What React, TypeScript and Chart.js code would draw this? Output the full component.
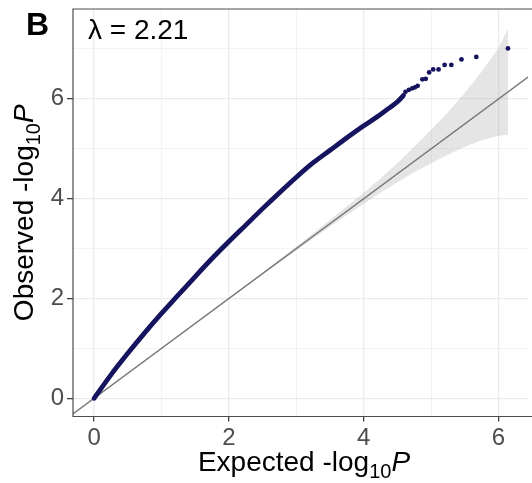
import { useEffect, useRef } from 'react';
import { Chart, registerables } from 'chart.js';

Chart.register(...registerables);

// ---- Data ----
const curveExpected = [0, 0.25, 0.5, 0.75, 1.0, 1.25, 1.5, 1.75, 2.0, 2.25, 2.5, 2.75, 3.0, 3.25, 3.5, 3.75, 4.0, 4.2, 4.35, 4.5, 4.59];
const curveObserved = [0, 0.47, 0.9, 1.31, 1.7, 2.07, 2.44, 2.8, 3.14, 3.47, 3.8, 4.12, 4.43, 4.72, 4.97, 5.22, 5.46, 5.64, 5.79, 5.94, 6.07];

const tailExpected = [4.62, 4.67, 4.72, 4.76, 4.8, 4.87, 4.92, 4.97, 5.03, 5.11, 5.2, 5.3, 5.45, 5.67, 6.14];
const tailObserved = [6.14, 6.18, 6.21, 6.23, 6.26, 6.39, 6.4, 6.53, 6.59, 6.59, 6.68, 6.68, 6.79, 6.84, 7.01];

const bandExpected = [1.0, 2.0, 2.5, 3.0, 3.5, 4.0, 4.25, 4.5, 4.75, 5.0, 5.25, 5.5, 5.75, 6.0, 6.14];
const bandUpper = [1.01, 2.01, 2.52, 3.04, 3.57, 4.12, 4.41, 4.71, 5.04, 5.38, 5.73, 6.12, 6.55, 7.02, 7.41];
const bandLower = [0.99, 1.99, 2.48, 2.96, 3.44, 3.9, 4.12, 4.33, 4.53, 4.71, 4.88, 5.04, 5.17, 5.26, 5.28];

const diagonalValues = [-1, 8];

const xTickValues = [0, 1, 2, 3, 4, 5, 6];
const yTickValues = [0, 1, 2, 3, 4, 5, 6, 7];
const X_MIN = -0.313;
const X_MAX = 6.437;
const Y_MIN = -0.365;
const Y_MAX = 7.8;

const PANEL_LABEL = 'B';
const LAMBDA_LABEL = 'λ = 2.21';
const X_TITLE_PREFIX = 'Expected -log';
const Y_TITLE_PREFIX = 'Observed -log';
const TITLE_SUB = '10';
const TITLE_VAR = 'P';

const FONT = '"Liberation Sans", Arial, Helvetica, sans-serif';
const NAVY = '#16145E';

const zip = (xs: number[], ys: number[]) => xs.map((x, i) => ({ x, y: ys[i] }));

function drawLogTitle(ctx: CanvasRenderingContext2D, prefix: string, cx: number, baseline: number, size: number) {
  const mainFont = `${size}px ${FONT}`;
  const subFont = `${Math.round(size * 0.7)}px ${FONT}`;
  const italFont = `italic ${size}px ${FONT}`;
  ctx.font = mainFont;
  const w1 = ctx.measureText(prefix).width;
  ctx.font = subFont;
  const w2 = ctx.measureText(TITLE_SUB).width;
  ctx.font = italFont;
  const w3 = ctx.measureText(TITLE_VAR).width;
  const start = cx - (w1 + w2 + w3) / 2;
  ctx.textAlign = 'left';
  ctx.textBaseline = 'alphabetic';
  ctx.fillStyle = '#000000';
  ctx.font = mainFont;
  ctx.fillText(prefix, start, baseline);
  ctx.font = subFont;
  ctx.fillText(TITLE_SUB, start + w1, baseline + 7);
  ctx.font = italFont;
  ctx.fillText(TITLE_VAR, start + w1 + w2, baseline);
}

const decorPlugin = {
  id: 'decor',
  afterDraw(chart: any) {
    const ctx: CanvasRenderingContext2D = chart.ctx;
    const { left, top, right, bottom } = chart.chartArea;
    ctx.save();
    // panel border (top, left, bottom; right edge is cut off)
    ctx.strokeStyle = '#4D4D4D';
    ctx.lineWidth = 1.2;
    ctx.beginPath();
    ctx.moveTo(right + 10, top);
    ctx.lineTo(left, top);
    ctx.lineTo(left, bottom);
    ctx.lineTo(right + 10, bottom);
    ctx.stroke();

    // panel label
    ctx.fillStyle = '#000000';
    ctx.textAlign = 'left';
    ctx.textBaseline = 'alphabetic';
    ctx.font = `bold 32px ${FONT}`;
    ctx.fillText(PANEL_LABEL, 26, 35);

    // lambda annotation
    ctx.font = `28px ${FONT}`;
    ctx.fillText(LAMBDA_LABEL, left + 15, top + 30);

    // x title
    drawLogTitle(ctx, X_TITLE_PREFIX, 304, 471, 28);

    // y title (rotated)
    ctx.translate(33, (top + bottom) / 2);
    ctx.rotate(-Math.PI / 2);
    drawLogTitle(ctx, Y_TITLE_PREFIX, 0, 0, 28);
    ctx.restore();
  },
};

const gridColor = (ctx: any) => (ctx.tick && ctx.tick.value % 2 === 0 ? '#EBEBEB' : '#F0F0F0');
const gridWidth = (ctx: any) => (ctx.tick && ctx.tick.value % 2 === 0 ? 1.3 : 0.8);
const tickColor = (ctx: any) => (ctx.tick && ctx.tick.value % 2 === 0 ? '#333333' : 'rgba(0,0,0,0)');
const evenLabel = (v: any) => (Number(v) % 2 === 0 ? String(v) : '');

export default function App() {
  const canvasRef = useRef<HTMLCanvasElement | null>(null);

  useEffect(() => {
    document.body.style.margin = '0';
    const canvas = canvasRef.current;
    if (!canvas) return;
    const chart = new Chart(canvas, {
      type: 'line',
      data: {
        datasets: [
          {
            label: 'tail',
            data: zip(tailExpected, tailObserved),
            showLine: false,
            pointRadius: 2.4,
            pointBackgroundColor: NAVY,
            pointBorderWidth: 0,
            borderColor: NAVY,
          },
          {
            label: 'observed',
            data: zip(curveExpected, curveObserved),
            borderColor: NAVY,
            borderWidth: 4.8,
            borderCapStyle: 'round',
            borderJoinStyle: 'round',
            cubicInterpolationMode: 'monotone',
            pointRadius: 0,
            fill: false,
          },
          {
            label: 'diagonal',
            data: zip(diagonalValues, diagonalValues),
            borderColor: '#777777',
            borderWidth: 1.4,
            pointRadius: 0,
            fill: false,
            clip: 0,
          },
          {
            label: 'lower',
            data: zip(bandExpected, bandLower),
            borderWidth: 0,
            borderColor: 'rgba(0,0,0,0)',
            pointRadius: 0,
            fill: false,
            clip: 0,
          },
          {
            label: 'upper',
            data: zip(bandExpected, bandUpper),
            borderWidth: 0,
            borderColor: 'rgba(0,0,0,0)',
            backgroundColor: 'rgba(150,150,150,0.25)',
            pointRadius: 0,
            fill: '-1',
            clip: 0,
          },
        ],
      } as any,
      options: {
        animation: false,
        responsive: false,
        maintainAspectRatio: false,
        layout: { padding: { top: 9, left: 0, right: 0, bottom: 0 } },
        plugins: {
          legend: { display: false },
          tooltip: { enabled: false },
          title: { display: false },
        },
        scales: {
          x: {
            type: 'linear',
            min: X_MIN,
            max: X_MAX,
            afterBuildTicks: (scale: any) => {
              scale.ticks = xTickValues.map((value) => ({ value }));
            },
            afterFit: (scale: any) => {
              scale.height = 66.5;
              scale.paddingLeft = 0;
              scale.paddingRight = 0;
              scale.paddingTop = 0;
              scale.paddingBottom = 0;
            },
            border: { display: false },
            grid: {
              color: gridColor,
              lineWidth: gridWidth,
              tickColor: tickColor,
              tickWidth: 1.2,
              tickLength: 5,
            },
            ticks: {
              autoSkip: false,
              maxRotation: 0,
              padding: 2,
              color: '#4D4D4D',
              font: { family: FONT, size: 24 },
              callback: evenLabel,
            },
          },
          y: {
            type: 'linear',
            min: Y_MIN,
            max: Y_MAX,
            afterBuildTicks: (scale: any) => {
              scale.ticks = yTickValues.map((value) => ({ value }));
            },
            afterFit: (scale: any) => {
              scale.width = 73;
              scale.paddingLeft = 0;
              scale.paddingRight = 0;
              scale.paddingTop = 0;
              scale.paddingBottom = 0;
            },
            border: { display: false },
            grid: {
              color: gridColor,
              lineWidth: gridWidth,
              tickColor: tickColor,
              tickWidth: 1.2,
              tickLength: 6,
            },
            ticks: {
              autoSkip: false,
              padding: 3,
              color: '#4D4D4D',
              font: { family: FONT, size: 24 },
              callback: evenLabel,
            },
          },
        },
      } as any,
      plugins: [decorPlugin],
    });
    return () => chart.destroy();
  }, []);

  return (
    <canvas
      ref={canvasRef}
      width={532}
      height={483}
      style={{ position: 'absolute', left: 0, top: 0, width: 532, height: 483 }}
    />
  );
}
